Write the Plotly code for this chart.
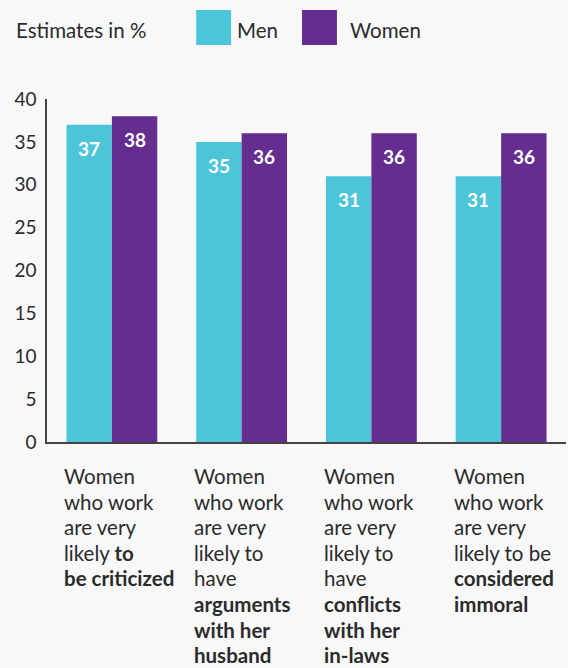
import plotly.graph_objects as go

categories = ["criticized", "arguments", "conflicts", "immoral"]
men = [37, 35, 31, 31]
women = [38, 36, 36, 36]
series_names = ["Men", "Women"]
label_lines = [
    ["Women", "who work", "are very", "likely <b>to</b>", "<b>be criticized</b>"],
    ["Women", "who work", "are very", "likely to", "have", "<b>arguments</b>", "<b>with her</b>", "<b>husband</b>"],
    ["Women", "who work", "are very", "likely to", "have", "<b>conflicts</b>", "<b>with her</b>", "<b>in-laws</b>"],
    ["Women", "who work", "are very", "likely to be", "<b>considered</b>", "<b>immoral</b>"],
]
yticks = [0, 5, 10, 15, 20, 25, 30, 35, 40]

MEN_C = "#4cc5d9"
WOMEN_C = "#662d91"
FONT = "Lato"
TXT = "#2b2b2b"

xs = list(range(len(categories)))
fig = go.Figure()
fig.add_bar(x=xs, y=men, name=series_names[0], marker_color=MEN_C, marker_line_width=0)
fig.add_bar(x=xs, y=women, name=series_names[1], marker_color=WOMEN_C, marker_line_width=0)

ann = []
off = 0.175
for i in xs:
    for v, dx in ((men[i], -off), (women[i], off)):
        ann.append(dict(x=i + dx, y=v, xref="x", yref="y", text=f"<b>{v}</b>",
                        showarrow=False, yanchor="top", yshift=-10,
                        font=dict(family=FONT, size=19, color="white")))
    for k, line in enumerate(label_lines[i]):
        ann.append(dict(x=i - 0.35, y=0, xref="x", yref="y", text=line,
                        showarrow=False, xanchor="left", yanchor="middle",
                        yshift=-34 - 25.6 * k, xshift=-4,
                        font=dict(family=FONT, size=20.5, color=TXT)))

def px(xp):
    return (xp - 46.5) / 520
def py(yp):
    return (442 - yp) / 343

for xp, t in ((16, "Estimates in %"), (238, series_names[0]), (351, series_names[1])):
    ann.append(dict(x=px(xp - 3), y=py(30), xref="paper", yref="paper", text=t,
                    showarrow=False, xanchor="left", yanchor="middle",
                    font=dict(family=FONT, size=20.5, color=TXT)))
shapes = [
    dict(type="rect", xref="paper", yref="paper", x0=px(196), x1=px(231),
         y0=py(45), y1=py(10), fillcolor=MEN_C, line_width=0),
    dict(type="rect", xref="paper", yref="paper", x0=px(302), x1=px(337),
         y0=py(45), y1=py(10), fillcolor=WOMEN_C, line_width=0),
]

fig.update_layout(
    width=568, height=668,
    margin=dict(l=46.5, r=1.5, t=99, b=226),
    paper_bgcolor="#f8f8f8", plot_bgcolor="#f8f8f8",
    barmode="group", bargap=0.3, bargroupgap=0,
    showlegend=False,
    font=dict(family=FONT, color=TXT),
    xaxis=dict(range=[-0.5, 3.5], showticklabels=False, showgrid=False, zeroline=False,
               showline=True, linecolor="#444", linewidth=1.5, ticks=""),
    yaxis=dict(range=[0, 40], tickvals=yticks, showgrid=False, zeroline=False,
               showline=True, linecolor="#444", linewidth=1.5, ticks="",
               tickfont=dict(family=FONT, size=19, color=TXT), ticklabelstandoff=5),
    annotations=ann, shapes=shapes,
)
fig.write_html("out.html")
